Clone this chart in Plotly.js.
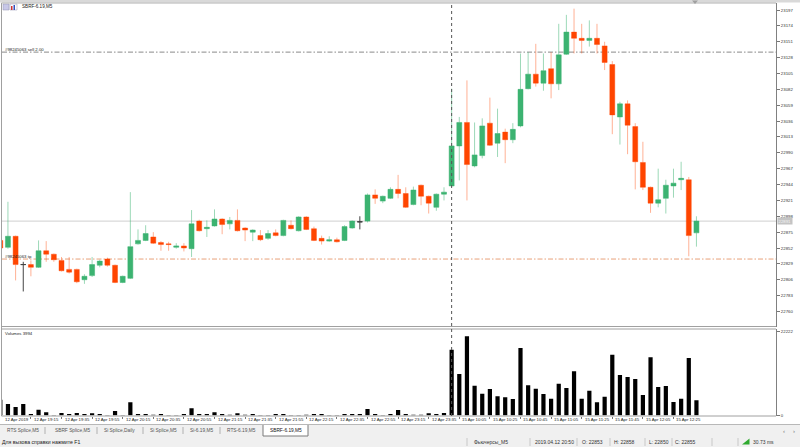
<!DOCTYPE html>
<html><head><meta charset="utf-8">
<script src="https://cdn.plot.ly/plotly-3.0.1.min.js"></script>
<style>html,body{margin:0;padding:0;background:#fff;overflow:hidden}#c{width:800px;height:447px}</style>
</head><body><div id="c"></div>
<script>
// ---- data (SBRF-6.19, M5) ----
const openP  = [22863,22853,22869,22828,22828,22824,22848,22843,22834,22821,22821,22806,22812,22827,22836,22827,22802,22808,22858,22863,
  22868,22860,22858,22853,22855,22851,22891,22880,22884,22894,22887,22892,22881,22875,22870,22866,22874,22870,22885,22877,
  22897,22880,22866,22862,22864,22863,22881,22890,22891,22929,22920,22924,22937,22931,22915,22943,22927,22911,22930,22942,
  23000,23034,22971,22986,23033,23004,23020,23009,23029,23083,23104,23091,23112,23090,23133,23165,23156,23153,23156,23145,
  23118,23042,23061,23028,22976,22940,22917,22924,22942,22951,22951,22874];
const highP  = [22866,22919,22870,22832,22834,22863,22862,22844,22839,22839,22822,22814,22839,22835,22838,22828,22812,22933,22879,22885,
  22875,22862,22861,22859,22859,22907,22893,22892,22908,22895,22897,22908,22882,22879,22878,22878,22879,22893,22892,22898,
  22898,22883,22870,22869,22867,22885,22892,22898,22931,22937,22928,22940,22958,22940,22941,22944,22928,22931,22940,23083,
  23042,23095,23034,23040,23070,23054,23025,23033,23134,23136,23148,23134,23136,23177,23190,23199,23177,23182,23177,23151,
  23123,23064,23066,23033,23006,22941,22967,22951,22967,22977,22955,22898];
const lowP   = [22849,22851,22805,22789,22811,22823,22832,22832,22818,22815,22801,22800,22810,22824,22825,22801,22801,22807,22857,22862,
  22858,22848,22848,22851,22847,22839,22876,22868,22883,22872,22879,22876,22862,22862,22862,22864,22869,22869,22879,22876,
  22878,22862,22857,22861,22860,22862,22880,22879,22889,22916,22917,22923,22924,22910,22914,22914,22902,22906,22921,22941,
  22950,22921,22969,22982,23000,22984,22975,23004,23027,23082,23086,23080,23069,23081,23132,23134,23134,23144,23134,23110,
  23017,23002,22988,22937,22936,22903,22911,22902,22925,22936,22840,22854];
const closeP = [22852,22869,22828,22828,22824,22848,22843,22835,22819,22817,22803,22811,22828,22833,22827,22802,22811,22854,22863,22873,
  22859,22857,22857,22855,22852,22887,22877,22882,22894,22886,22892,22877,22878,22878,22864,22873,22870,22892,22880,22897,
  22879,22863,22862,22864,22861,22883,22891,22890,22929,22924,22927,22937,22931,22911,22936,22927,22917,22930,22933,23000,
  23034,22973,22987,23029,23001,23018,23009,23024,23082,23104,23091,23109,23090,23132,23165,23156,23153,23156,23147,23121,
  23045,23061,23030,22977,22940,22917,22922,22943,22946,22953,22870,22891];
const volumes = [4150,3020,2240,3020,400,1525,840,100,660,400,660,400,580,400,100,1180,100,3470,400,400,
  210,400,100,100,400,1890,400,400,840,400,210,580,210,400,100,100,400,400,100,100,
  210,400,400,100,100,400,400,400,1710,400,100,400,1450,400,210,210,580,400,660,17300,
  10900,20830,7840,5730,6970,5050,4790,4340,17750,7940,7050,5650,4420,8360,7230,11620,4420,6520,3470,4940,
  15990,10650,10130,9600,5390,15300,7500,7760,3550,4420,15120,3994];
const timeTickBar = [0,4,8,12,16,20,24,28,32,36,40,44,48,52,56,60,64,68,72,76,80,84,88];
const timeTickText = ["12 Apr 2019","12 Apr 19:15","12 Apr 19:35","12 Apr 19:55","12 Apr 20:15","12 Apr 20:35","12 Apr 20:55",
  "12 Apr 21:15","12 Apr 21:35","12 Apr 21:55","12 Apr 22:15","12 Apr 22:35","12 Apr 22:55","12 Apr 23:15","12 Apr 23:35",
  "15 Apr 10:05","15 Apr 10:25","15 Apr 10:45","15 Apr 11:05","15 Apr 11:25","15 Apr 11:45","15 Apr 12:05","15 Apr 12:25"];
const priceTicks = [22760,22783,22806,22829,22852,22875,22898,22921,22944,22967,22990,23013,23036,23059,23082,23105,23128,23151,23174,23197];
const volTicks = [0,22222];
const sellPrice = 23136, tpPrice = 22836;
const daySepBar = 59;
const tabNames = ["RTS Splice,M5","SBRF Splice,M5","Si Splice,Daily","Si Splice,M5","Si-6.19,M5","RTS-6.19,M5","SBRF-6.19,M5"];
const statusTexts = ["Фьючерсы_M5","2019.04.12 20:50","O: 22853","H: 22858","L: 22850","C: 22855","30.73 ms"];

// ---- layout helpers ----
const W=800,H=447;
const px=x=>x/W, py=y=>1-y/H;
const FONT="Liberation Sans, Arial, sans-serif";
const idx = openP.map((_,i)=>i);
const nIdx=[], dIdx=[];
idx.forEach(i=>{ (openP[i]===closeP[i]?dIdx:nIdx).push(i); });
const pick=(a,ii)=>ii.map(i=>a[i]);
const lastClose = closeP[closeP.length-1];

const xRange=[0.222,101.4];
const traces=[
 {type:'candlestick',x:nIdx,open:pick(openP,nIdx),high:pick(highP,nIdx),low:pick(lowP,nIdx),close:pick(closeP,nIdx),
  xaxis:'x',yaxis:'y',whiskerwidth:0,hoverinfo:'skip',showlegend:false,
  increasing:{line:{color:'rgba(60,179,113,0.5)',width:1},fillcolor:'#3cb371'},
  decreasing:{line:{color:'rgba(255,69,0,0.42)',width:1},fillcolor:'#ff4500'}},
 {type:'candlestick',x:dIdx,open:pick(openP,dIdx),high:pick(highP,dIdx),low:pick(lowP,dIdx),close:pick(closeP,dIdx),
  xaxis:'x',yaxis:'y',whiskerwidth:0,hoverinfo:'skip',showlegend:false,
  increasing:{line:{color:'#444',width:1},fillcolor:'#444'},
  decreasing:{line:{color:'#444',width:1},fillcolor:'#444'}},
 {type:'bar',x:idx,y:volumes,xaxis:'x2',yaxis:'y2',width:0.55,marker:{color:'#000',line:{width:0}},hoverinfo:'skip',showlegend:false}
];

const shapes=[];
const rect=(x0,y0,x1,y1,fill,line,lw)=>shapes.push({type:'rect',xref:'paper',yref:'paper',x0:px(x0),x1:px(x1),y0:py(y1),y1:py(y0),fillcolor:fill||'rgba(0,0,0,0)',line:{color:line||'rgba(0,0,0,0)',width:lw===undefined?1:lw},layer:'below'});
const lineP=(x0,y0,x1,y1,color,w,dash,layer)=>shapes.push({type:'line',xref:'paper',yref:'paper',x0:px(x0),x1:px(x1),y0:py(y0),y1:py(y1),line:{color:color,width:w||1,dash:dash||'solid'},layer:layer||'above'});

rect(0,0,800,2.5,'#d9d9d9',null,0);
lineP(1.5,3,1.5,416,'#a0a0a0',1);
lineP(1.5,3,776,3,'#b0b0b0',1);
lineP(1.5,326.5,776,326.5,'#a0a0a0',1);
lineP(1.5,329,776,329,'#a0a0a0',1);
lineP(1.5,416,776,416,'#a0a0a0',1);
shapes.push({type:'line',xref:'paper',yref:'y',x0:px(2),x1:px(776),y0:lastClose,y1:lastClose,line:{color:'#cfcfcf',width:1},layer:'below'});
shapes.push({type:'line',xref:'paper',yref:'y',x0:px(2),x1:px(776),y0:sellPrice,y1:sellPrice,line:{color:'#8a8a8a',width:1,dash:'5px,2px,1.5px,2px'},layer:'below'});
shapes.push({type:'line',xref:'paper',yref:'y',x0:px(2),x1:px(776),y0:tpPrice,y1:tpPrice,line:{color:'#e8a27a',width:1,dash:'5px,2px,1.5px,2px'},layer:'below'});
shapes.push({type:'line',xref:'x',yref:'paper',x0:daySepBar,x1:daySepBar,y0:py(416),y1:py(3),line:{color:'#555',width:1,dash:'dot'},layer:'above'});
shapes.push({type:'path',xref:'paper',yref:'paper',path:`M ${px(692)} ${py(0.5)} L ${px(698)} ${py(0.5)} L ${px(695)} ${py(4)} Z`,fillcolor:'#a0a0a0',line:{width:0}});
rect(3,4,9,10,'#c8c8e8','#9090b0',0.5);
rect(10,4,17,10,'#ffffff','#9090b0',0.5);
rect(11,6,12.5,10,'#d03030',null,0);
rect(13.5,5,15,10,'#3050c0',null,0);
rect(0,424,800,437,'#f0f0f0',null,0);
rect(0,437,800,447,'#f0f0f0',null,0);
lineP(0,424.5,800,424.5,'#b8b8b8',1);
rect(263,424.5,308,436,'#ffffff','#7a7a7a',1);
[45,97,143,183,220].forEach(x=>lineP(x,427,x,434,'#b0b0b0',1));
[467,530,577,610,645,672,712,738].forEach(x=>lineP(x,438,x,446,'#c8c8c8',1));
shapes.push({type:'path',xref:'paper',yref:'paper',path:`M ${px(742)} ${py(444.5)} L ${px(749.5)} ${py(444.5)} L ${px(749.5)} ${py(438.5)} Z`,fillcolor:'#2faa2f',line:{width:0}});

const ann=[];
const txt=(t,x,y,size,color,opts)=>ann.push(Object.assign({text:t,xref:'paper',yref:'paper',x:px(x),y:py(y),xanchor:'left',yanchor:'middle',showarrow:false,font:{size:size,color:color||'#222',family:FONT}},opts||{}));
txt('SBRF-6.19,M5',20,6.5,4.6,'#222');
txt('Volumes 3994',3,333,4.3,'#222');
ann.push({text:'#98245063 sell 2.00',xref:'paper',yref:'y',x:px(3),y:sellPrice,xanchor:'left',yanchor:'bottom',yshift:-1.5,showarrow:false,font:{size:4.3,color:'#222',family:FONT}});
ann.push({text:'#98245063 tp',xref:'paper',yref:'y',x:px(3),y:tpPrice,xanchor:'left',yanchor:'bottom',yshift:-1.5,showarrow:false,font:{size:4.3,color:'#222',family:FONT}});
ann.push({text:String(lastClose),xref:'paper',yref:'y',x:px(777),y:lastClose,xanchor:'left',yanchor:'middle',showarrow:false,bgcolor:'#c4c4c4',borderpad:0.5,font:{size:4.3,color:'#f4f4f4',family:FONT}});
timeTickBar.forEach((b,i)=>ann.push({text:timeTickText[i],xref:'x2',yref:'paper',x:Math.max(b,xRange[0]+0.02),y:py(419.8),xanchor:'left',yanchor:'middle',xshift:1,showarrow:false,font:{size:4.3,color:'#222',family:FONT}}));
const tabX=[5,53,102,148,188,225,268];
tabNames.forEach((t,i)=>txt(t,tabX[i],430.5,4.8,i===tabNames.length-1?'#111':'#555'));
txt('Для вызова справки нажмите F1',0,442,5.2,'#222');
const statusX=[472,533,580,612,647,673,751];
statusTexts.forEach((t,i)=>txt(t,statusX[i],442,5.0,'#333'));
txt('‹',781,431,6,'#777');
txt('›',791,431,6,'#777');

const layout={
 width:W,height:H,margin:{l:0,r:0,t:0,b:0},paper_bgcolor:'#ffffff',plot_bgcolor:'#ffffff',
 showlegend:false,boxgap:0.35,boxgroupgap:0,boxmode:'overlay',
 xaxis:{domain:[px(2),px(776)],range:xRange,anchor:'y',showticklabels:false,showgrid:false,zeroline:false,showline:false,ticks:'',fixedrange:true,rangeslider:{visible:false}},
 xaxis2:{domain:[px(2),px(776)],range:xRange,anchor:'y2',showticklabels:false,showgrid:false,zeroline:false,showline:false,ticks:'outside',tickmode:'array',tickvals:timeTickBar,ticklen:2,tickcolor:'#777',tickwidth:1,fixedrange:true},
 yaxis:{domain:[py(326.5),py(3)],range:[22738.2,23207.2],side:'right',anchor:'x',tickmode:'array',tickvals:priceTicks,ticktext:priceTicks.map(String),ticks:'outside',ticklen:3,tickcolor:'#777',tickwidth:1,
   tickfont:{size:4.3,color:'#333',family:FONT},showgrid:false,zeroline:false,showline:true,linecolor:'#808080',linewidth:1,fixedrange:true},
 yaxis2:{domain:[py(415.5),py(329)],range:[0,22750],side:'right',anchor:'x2',tickmode:'array',tickvals:volTicks,ticktext:volTicks.map(String),ticks:'outside',ticklen:3,tickcolor:'#777',tickwidth:1,
   tickfont:{size:4.3,color:'#333',family:FONT},showgrid:false,zeroline:false,showline:true,linecolor:'#808080',linewidth:1,fixedrange:true},
 shapes:shapes,annotations:ann
};
Plotly.newPlot('c',traces,layout,{staticPlot:true,displayModeBar:false});
</script></body></html>
